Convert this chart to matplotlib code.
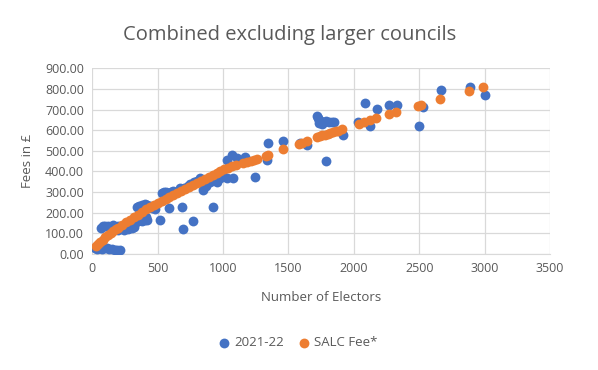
import matplotlib.pyplot as plt
import numpy as np

# 2021-22 fees (blue)
blue_x = [20, 35, 50, 60, 75, 90, 110, 130, 150, 170, 190, 210, 40,
          70, 85, 100, 120, 140, 160, 180, 200, 220, 240, 260, 280, 300, 320,
          200, 240, 270, 300, 330, 350, 370, 390, 410, 380, 400, 420,
          340, 360, 380, 400, 420, 440, 460, 480,
          378, 518, 530, 545, 560, 580, 600, 620, 640, 660, 590, 683, 696, 772,
          670, 700, 730, 750, 780, 800, 823, 836, 849, 870, 900, 925, 951, 980, 1000,
          1027, 1027, 1066, 1078, 1104, 1167, 1244, 1333, 1340, 1460,
          1588, 1639, 1715, 1725, 1735, 1745, 1760, 1775, 1790, 1810, 1830, 1850,
          1735, 1760, 1787, 1919, 2034, 2085, 2123, 2179, 2271, 2327,
          2498, 2526, 2663, 2888, 3000]
blue_y = [30, 25, 30, 28, 25, 30, 28, 25, 22, 20, 20, 18, 40,
          125, 135, 138, 135, 132, 140, 130, 135, 128, 125, 130, 128, 135, 130,
          115, 118, 120, 125, 150, 160, 170, 175, 180, 160, 165, 165,
          230, 235, 238, 240, 236, 232, 225, 218,
          165, 165, 294, 300, 302, 298, 300, 305, 300, 305, 221, 229, 121, 160,
          318, 320, 330, 340, 350, 355, 367, 359, 310, 330, 350, 229, 350, 370, 380,
          455, 367, 478, 367, 464, 470, 373, 455, 536, 546,
          536, 528, 668, 660, 650, 645, 640, 640, 645, 640, 640, 638,
          635, 632, 452, 577, 641, 730, 620, 705, 720, 720,
          620, 710, 795, 810, 770]

# SALC Fee* (orange)
salc_x = [25, 40, 60, 80, 100, 120, 140, 160, 180, 200, 230, 260, 290, 320, 350,
          380, 410, 440, 470, 500, 530, 560, 590, 620, 650, 680, 710, 740, 770,
          800, 830, 860, 890, 920, 950, 980, 1010, 1040, 1070, 1100, 1150, 1180,
          1210, 1240, 1260, 1330, 1340, 1460, 1580, 1600, 1640, 1720, 1740, 1760,
          1780, 1800, 1820, 1840, 1860, 1880, 1910, 2040, 2080, 2120, 2170, 2270,
          2320, 2490, 2510, 2660, 2880, 2990]
salc_y = [40, 47, 58, 69, 80, 91, 102, 111, 119, 128, 140, 153, 166, 178, 191,
          204, 217, 229, 238, 248, 257, 266, 276, 285, 295, 304, 314, 324, 333,
          343, 352, 362, 372, 381, 391, 400, 410, 419, 428, 433, 440, 447,
          452, 457, 460, 475, 480, 507, 533, 538, 548, 565, 570, 575,
          578, 583, 588, 592, 595, 598, 604, 632, 640, 648, 657, 678,
          688, 718, 722, 750, 790, 810]

fig = plt.figure(figsize=(5.98, 3.70), dpi=100)
ax = fig.add_axes([0.1543, 0.3135, 0.7654, 0.502])

ax.scatter(blue_x, blue_y, s=50, color='#4472C4', label='2021-22', zorder=3, linewidths=0)
ax.scatter(salc_x, salc_y, s=50, color='#ED7D31', label='SALC Fee*', zorder=4, linewidths=0)

ax.set_xlim(0, 3500)
ax.set_ylim(0, 900)
ax.set_xticks(np.arange(0, 3501, 500))
ax.set_yticks(np.arange(0, 901, 100))
ax.set_yticklabels(['%.2f' % v for v in np.arange(0, 901, 100)])
ax.grid(True, color='#d9d9d9', linewidth=0.9)
ax.set_axisbelow(True)
for s in ax.spines.values():
    s.set_visible(False)
ax.spines['bottom'].set_visible(True)
ax.spines['bottom'].set_color('#d9d9d9')
ax.tick_params(length=0, labelsize=9, colors='#595959', pad=6)

font = 'Open Sans'
for lab in ax.get_xticklabels() + ax.get_yticklabels():
    lab.set_family(font)

fig.text(290 / 598, 1 - 35 / 370, 'Combined excluding larger councils', fontsize=14.5,
         color='#595959', family=font, ha='center', va='center')
ax.set_xlabel('Number of Electors', fontsize=9.5, color='#595959', family=font, labelpad=11)
ax.set_ylabel('Fees in £', fontsize=9.5, color='#595959', family=font, labelpad=8)

fig.legend(loc='center', bbox_to_anchor=(294 / 598, 1 - 343 / 370), ncol=2, frameon=False,
           handletextpad=-0.2, columnspacing=0.5, markerscale=1.0,
           prop={'family': font, 'size': 9.5}, labelcolor='#595959')

fig.savefig('out.png', dpi=100)
